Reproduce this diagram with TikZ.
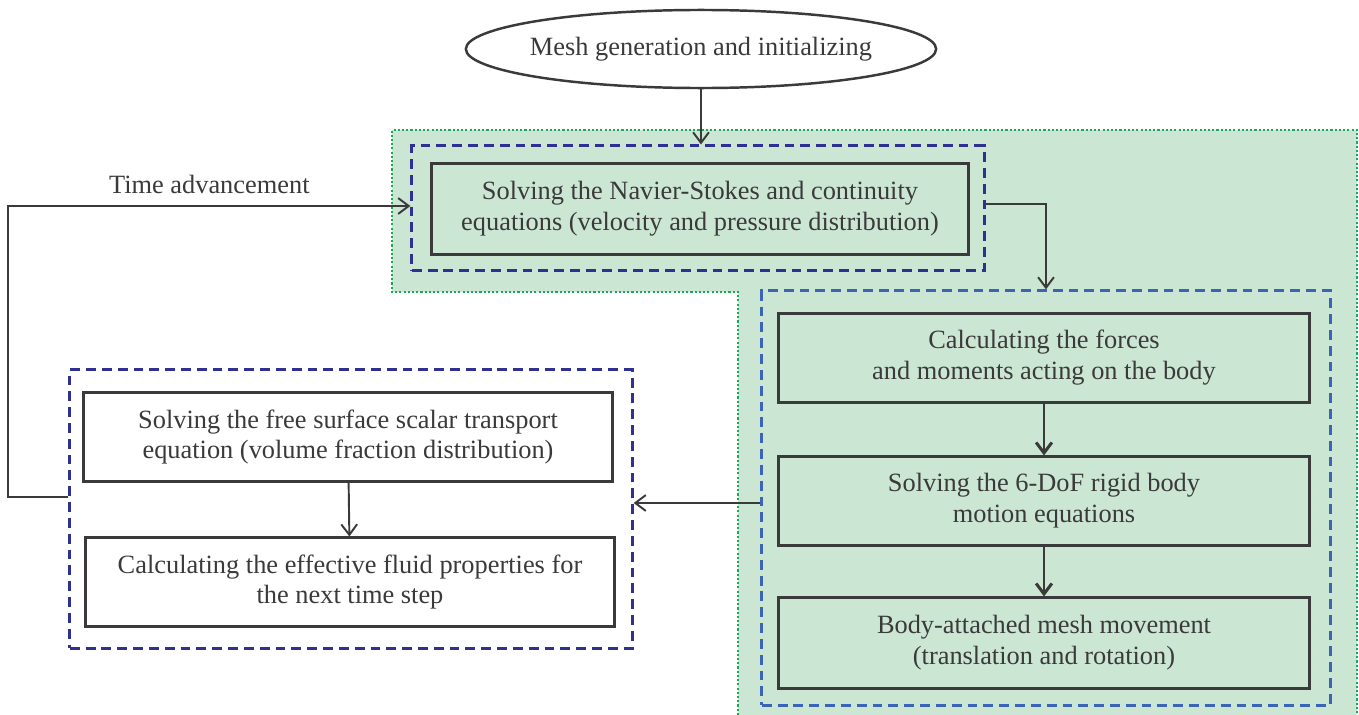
\documentclass[tikz,border=0pt]{standalone}
\usepackage{fontspec}
\setmainfont{Liberation Serif}
\usetikzlibrary{arrows.meta,positioning,shapes.geometric}

\definecolor{boxgreen}{HTML}{CCE6D4}
\definecolor{dotgreen}{HTML}{1AAA55}
\definecolor{navy}{HTML}{2E3192}
\definecolor{midblue}{HTML}{3C64B4}
\definecolor{ink}{HTML}{3A3A3A}

\tikzset{
  proc/.style={draw=ink, line width=0.85pt, text=ink, align=center, inner sep=0pt,
    minimum width=5.3cm, minimum height=0.89cm, font=\fontsize{7.5}{8.8}\selectfont},
  navygroup/.style={draw=navy, line width=0.85pt, dash pattern=on 2.8pt off 1.7pt, inner sep=0pt},
  bluegroup/.style={draw=midblue, line width=0.85pt, dash pattern=on 2.8pt off 1.7pt, inner sep=0pt},
  flow/.style={draw=ink, line width=0.55pt, -{Straight Barb[length=3pt,width=4.5pt]}},
  bigflow/.style={flow, line width=0.85pt},
}

\begin{document}
\begin{tikzpicture}[x=0.01cm,y=-0.01cm]
\useasboundingbox (0,0) rectangle (1359,715);

% shaded region
\fill[boxgreen] (392,130) -- (1357,130) -- (1357,715) -- (738,715) -- (738,292) -- (392,292) -- cycle;
\draw[dotgreen, line width=0.6pt, dash pattern=on 0.6pt off 0.6pt]
  (738,715) -- (738,292) -- (392,292) -- (392,130) -- (1357,130) -- (1357,715);

% start
\node[ellipse, draw=ink, line width=0.7pt, text=ink, minimum width=4.7cm, minimum height=0.78cm,
  inner xsep=-0.05cm, inner ysep=0pt, font=\fontsize{7.5}{8.8}\selectfont] (mesh) at (701,49) {Mesh generation and initializing};

% flow solver
\node[navygroup, minimum width=5.72cm, minimum height=1.24cm] (nsgroup) at (698,208) {};
\node[proc, fill=boxgreen, minimum width=5.36cm, minimum height=0.9cm] (ns) at (700,209)
  {Solving the Navier-Stokes and continuity\\equations (velocity and pressure distribution)};

% rigid body motion
\node[bluegroup, minimum width=5.68cm, minimum height=4.14cm] (dyngroup) at (1046,498) {};
\node[proc, fill=boxgreen] (forces) at (1044,358) {Calculating the forces\\and moments acting on the body};
\node[proc, fill=boxgreen, minimum height=0.88cm] (sixdof) at (1044,501) {Solving the 6-DoF rigid body\\motion equations};
\node[proc, fill=boxgreen, minimum height=0.9cm] (meshmove) at (1044,643) {Body-attached mesh movement\\(translation and rotation)};

% free surface
\node[navygroup, minimum width=5.62cm, minimum height=2.78cm] (fluidgroup) at (351,509) {};
\node[proc, fill=white, minimum width=5.28cm] (freesurf) at (348,437) {Solving the free surface scalar transport\\equation (volume fraction distribution)};
\node[proc, fill=white, minimum width=5.28cm, minimum height=0.88cm] (props) at (350,582) {Calculating the effective fluid properties for\\the next time step};

% connectors
\draw[flow] (mesh) -- (mesh.south |- nsgroup.north);
\draw[flow] ([yshift=0.04cm]nsgroup.east) -| (dyngroup.north);
\draw[bigflow] (forces) -- (sixdof);
\draw[bigflow] (sixdof) -- (meshmove);
\draw[flow] ([yshift=-0.05cm]dyngroup.west) -- ([yshift=-0.05cm]dyngroup.west -| fluidgroup.east);
\draw[flow] (freesurf) -- (props);
\draw[flow] ([yshift=0.12cm]fluidgroup.west) -- ++(-60,0) |- ([yshift=0.02cm]nsgroup.west)
  node[pos=0.75, above, text=ink, font=\fontsize{7.5}{8.8}\selectfont] {Time advancement};
\end{tikzpicture}
\end{document}
